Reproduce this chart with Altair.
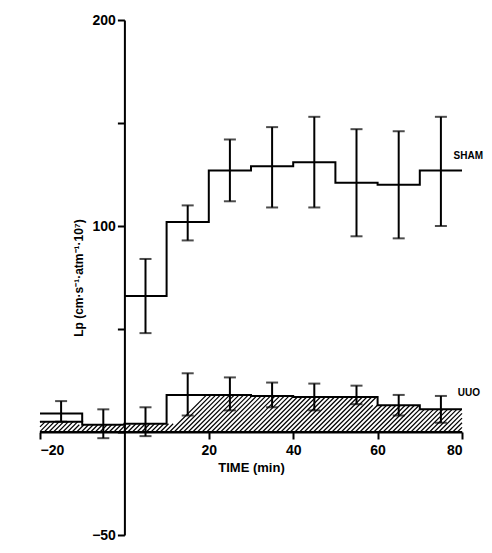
import altair as alt
import pandas as pd

# SHAM: 10-min steps 0..80
sham_start = [0, 10, 20, 30, 40, 50, 60, 70]
sham_val = [66, 102, 127, 129, 131, 121, 120, 127]
sham_mid = [5, 15, 25, 35, 45, 55, 65, 75]
sham_lo = [48, 93, 112, 109, 109, 95, 94, 100]
sham_hi = [84, 110, 142, 148, 153, 147, 146, 153]

# UUO
uuo_start = [-20, -10, 0, 10, 20, 30, 40, 50, 60, 70]
uuo_val = [5, 3.5, 4, 18, 18, 17.5, 17, 17, 13, 11]
uuo_mid = [-15, -5, 5, 15, 25, 35, 45, 55, 65, 75]
uuo_lo = [5, -3, -2, 8, 10.5, 12, 10.5, 13.5, 8, 4.5]
uuo_hi = [15, 11, 12, 28.5, 26.5, 24, 23.5, 22.5, 18, 17.5]
uuo_box_top = 9  # open outline over the first interval

W, H = 422, 515

def steps(starts, vals, end=80):
    xs, ys = [], []
    for i, (s, v) in enumerate(zip(starts, vals)):
        e = starts[i + 1] if i + 1 < len(starts) else end
        xs += [s, e]; ys += [v, v]
    return pd.DataFrame({"x": xs, "y": ys, "o": range(len(xs))})

sham_df = steps(sham_start, sham_val)
uuo_df = steps(uuo_start, uuo_val)

def uuo_at(x):
    v = uuo_val[0]
    for s, val in zip(uuo_start, uuo_val):
        if x >= s:
            v = val
    return v

# hatch lines (derived from UUO step values), 45 degrees in pixel space
ratio = (W / 100) / (H / 250)
hatch = []
x0 = -20 - 10.0
while x0 < 80:
    top = uuo_at(min(max(x0, -20), 79.9))
    for _ in range(3):
        xe = x0 + top / ratio
        top = min(top, uuo_at(min(max(xe, -20), 79.9)))
    xa, ya = x0, 0.0
    xb, yb = x0 + top / ratio, top
    if xa < -20:
        ya = (-20 - xa) * ratio; xa = -20
    if xb > 80:
        yb = (80 - x0) * ratio; xb = 80
    if ya < yb and xa < 80:
        hatch.append({"x": xa, "y": ya, "x2": xb, "y2": yb})
    x0 += 1.1
hatch_df = pd.DataFrame(hatch)

xs = alt.Scale(domain=[-20, 80], nice=False, zero=False)
ys = alt.Scale(domain=[-50, 200], nice=False, zero=False)
F = "Liberation Sans"

base_axis = dict(domainColor="black", tickColor="black", labelColor="black",
                 labelFont=F, labelFontWeight="bold", labelFontSize=14,
                 titleFont=F, titleFontWeight="bold", titleColor="black",
                 domainWidth=2, tickWidth=2, grid=False,
                 domainOpacity=1, tickOpacity=1, labelOpacity=1, titleOpacity=1)

axis_df = pd.DataFrame({"x": [0], "y": [0]})
axes = alt.Chart(axis_df).mark_point(opacity=0).encode(
    x=alt.X("x:Q", scale=xs, title="TIME (min)",
            axis=alt.Axis(values=[-20, 20, 40, 60, 80], offset=-(H * 50 / 250),
                          titleFontSize=13, tickSize=7, labelPadding=4, **base_axis)),
    y=alt.Y("y:Q", scale=ys, title="Lp (cm·s⁻¹·atm⁻¹·10⁷)",
            axis=alt.Axis(values=[-50, 0, 50, 100, 150, 200], offset=-(W * 20 / 100),
                          labelExpr="datum.value==0||datum.value==50||datum.value==150 ? '' : datum.label",
                          titleFontSize=12, tickSize=7, titlePadding=6, **base_axis)),
)

def X(f):
    return alt.X(f, scale=xs)

def Y(f):
    return alt.Y(f, scale=ys)

hatch_l = alt.Chart(hatch_df).mark_rule(color="black", strokeWidth=1.2).encode(
    x=X("x:Q"), y=Y("y:Q"), x2="x2:Q", y2="y2:Q")

def line(df):
    return alt.Chart(df).mark_line(color="black", strokeWidth=2).encode(
        x=X("x:Q"), y=Y("y:Q"), order="o:Q")

base_df = pd.DataFrame({"x": [-20, 80], "y": [0, 0], "o": [0, 1]})
box_df = pd.DataFrame({"x": [-20, -10, -10], "y": [uuo_box_top, uuo_box_top, uuo_val[0]], "o": [0, 1, 2]})

def errs(mid, lo, hi):
    df = pd.DataFrame({"x": mid, "lo": lo, "hi": hi})
    r = alt.Chart(df).mark_rule(color="black", strokeWidth=2).encode(
        x=X("x:Q"), y=Y("lo:Q"), y2="hi:Q")
    t1 = alt.Chart(df).mark_tick(color="black", thickness=2, size=12, orient="horizontal").encode(
        x=X("x:Q"), y=Y("lo:Q"))
    t2 = alt.Chart(df).mark_tick(color="black", thickness=2, size=12, orient="horizontal").encode(
        x=X("x:Q"), y=Y("hi:Q"))
    return r + t1 + t2

labels = pd.DataFrame({"x": [78, 79], "y": [134, 19], "t": ["SHAM", "UUO"]})
lab = alt.Chart(labels).mark_text(font=F, fontWeight="bold", fontSize=10, align="left", color="black").encode(
    x=X("x:Q"), y=Y("y:Q"), text="t:N")

chart = alt.layer(
    axes, hatch_l, line(uuo_df), line(base_df), line(box_df), line(sham_df),
    errs(sham_mid, sham_lo, sham_hi), errs(uuo_mid, uuo_lo, uuo_hi), lab
).properties(width=W, height=H, padding={"left": 32, "top": 12, "right": 22, "bottom": 10},
             autosize="none", background="white"
).configure_view(stroke=None
).configure_axis(domainOpacity=0, tickOpacity=0, labelOpacity=0, titleOpacity=0, grid=False)

chart.save("out.html", embed_options={"renderer": "svg", "actions": False})
